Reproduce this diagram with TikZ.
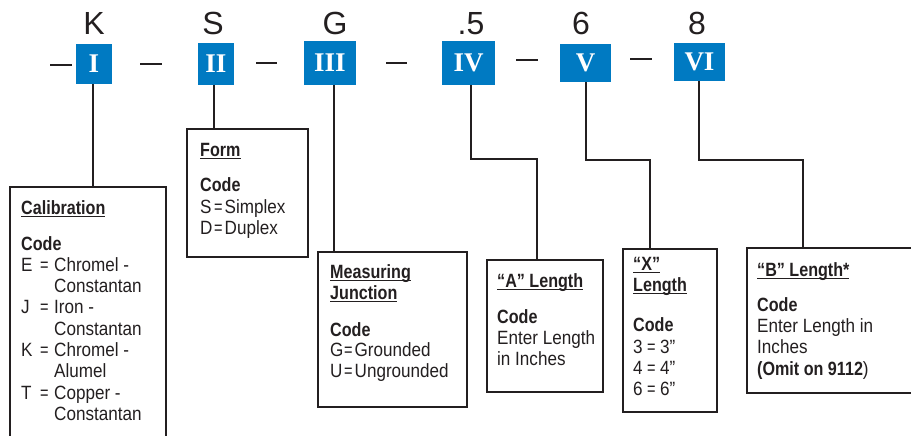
\documentclass[tikz,border=0pt]{standalone}
\usepackage{graphicx}
\usepackage{fontspec}
\setmainfont{Liberation Sans}[FakeStretch=0.89, BoldFeatures={FakeStretch=0.84}]
\newfontfamily\topfont{Liberation Sans}
\newfontfamily\numfont{Liberation Serif}
\definecolor{codeblue}{RGB}{0,122,194}
\definecolor{ink}{RGB}{35,31,32}
\newcommand\myul[1]{\setbox0=\hbox{#1}\rlap{\color{ink}\rule[-2.8pt]{\wd0}{1pt}}\box0}
\newcommand\eqs{\scalebox{0.85}[1]{=}}
\newcommand\codeln[2]{\makebox[14pt][l]{#1}\makebox[10.5pt][l]{\eqs}#2}
\newcommand\codelnc[2]{\makebox[19pt][l]{#1}\makebox[14pt][l]{\eqs}#2}
\newcommand\codelnx[2]{\makebox[14pt][l]{#1}\makebox[13pt][l]{\eqs}#2}
\newcommand\bodyfont{\fontsize{19.2}{21.3}\selectfont}
\tikzset{
  bluebox/.style={fill=codeblue, draw=none, inner sep=0pt, text=white,
    font=\numfont\bfseries\fontsize{27}{30}\selectfont},
  toplabel/.style={anchor=base, inner sep=0pt, text=ink,
    font=\topfont\fontsize{32}{36}\selectfont},
  infobox/.style={draw=ink, line width=2.2pt, inner sep=0pt},
  conn/.style={draw=ink, line width=2.2pt},
  dashbar/.style={draw=ink, line width=2.6pt},
  txt/.style={anchor=base west, inner sep=0pt, text=ink, font=\bodyfont},
}
\begin{document}
\begin{tikzpicture}[x=1pt,y=-1pt]
\useasboundingbox (0,0) rectangle (911,436);

% blue code boxes
\node[bluebox, minimum width=36pt, minimum height=40pt] (b1) at (94,64) {I};
\node[bluebox, minimum width=36pt, minimum height=42pt] (b2) at (216,64) {II};
\node[bluebox, minimum width=52pt, minimum height=44pt] (b3) at (330,63) {III};
\node[bluebox, minimum width=53pt, minimum height=44pt] (b4) at (468.5,63) {IV};
\node[bluebox, minimum width=51pt, minimum height=38pt] (b5) at (585.5,63) {V};
\node[bluebox, minimum width=51pt, minimum height=38pt] (b6) at (699.5,62) {VI};

% example values above
\node[toplabel] (t1) at (94,35) {K};
\node[toplabel] (t2) at (213,35) {S};
\node[toplabel] (t3) at (335,35) {G};
\node[toplabel] (t4) at (471,35) {.5};
\node[toplabel] (t5) at (581,35) {6};
\node[toplabel] (t6) at (697,35) {8};

% dashes
\draw[dashbar] (50,65) -- (72,65);
\draw[dashbar] (140,64) -- (162,64);
\draw[dashbar] (256,63) -- (277,63);
\draw[dashbar] (386,63) -- (407,63);
\draw[dashbar] (516,60) -- (538,60);
\draw[dashbar] (630,59) -- (652,59);

% description boxes
\node[infobox, minimum width=156pt, minimum height=263pt] (cal) at (88,318.5) {};
\node[infobox, minimum width=121pt, minimum height=128pt] (form) at (247.5,193) {};
\node[infobox, minimum width=149pt, minimum height=155pt] (meas) at (392.5,329.5) {};
\node[infobox, minimum width=116pt, minimum height=132pt] (alen) at (545,326) {};
\node[infobox, minimum width=94pt, minimum height=163pt] (xlen) at (670,330.5) {};
\node[infobox, minimum width=178pt, minimum height=145pt] (blen) at (836,320.5) {};

% connectors
\draw[conn] ([xshift=-1pt]b1.south) -- ([xshift=-1pt]b1.south |- cal.north);
\draw[conn] ([xshift=-2pt]b2.south) -- ([xshift=-2pt]b2.south |- form.north);
\draw[conn] ([xshift=4pt]b3.south) -- ([xshift=4pt]b3.south |- meas.north);
\coordinate (k4) at (537,159);
\coordinate (k5) at (650,160);
\coordinate (k6) at (803,160);
\draw[conn] ([xshift=2.5pt]b4.south) |- (k4) -- (k4 |- alen.north);
\draw[conn] ([xshift=0.5pt]b5.south) |- (k5) -- (k5 |- xlen.north);
\draw[conn] ([xshift=-0.5pt]b6.south) |- (k6) -- (k6 |- blen.north);

% texts
\node[txt] (caltxt) at (21,214) {\begin{tabular}[t]{@{}l@{}}
\myul{\bfseries Calibration}\\[14.7pt]
\bfseries Code\\
\codelnc{E}{Chromel -}\\
\hspace*{33pt}Constantan\\
\codelnc{J}{Iron -}\\
\hspace*{33pt}Constantan\\
\codelnc{K}{Chromel -}\\
\hspace*{33pt}Alumel\\
\codelnc{T}{Copper -}\\
\hspace*{33pt}Constantan
\end{tabular}};

\node[txt] (formtxt) at (200,156) {\begin{tabular}[t]{@{}l@{}}
\myul{\bfseries Form}\\[14.7pt]
\bfseries Code\\
\codeln{S}{Simplex}\\
\codeln{D}{Duplex}
\end{tabular}};

\node[txt] (meastxt) at (330,278) {\begin{tabular}[t]{@{}l@{}}
\myul{\bfseries Measuring}\\
\myul{\bfseries Junction}\\[15.5pt]
\bfseries Code\\[-0.8pt]
\codeln{G}{Grounded}\\[-0.8pt]
\codeln{U}{Ungrounded}
\end{tabular}};

\node[txt] (alentxt) at (497,287) {\begin{tabular}[t]{@{}l@{}}
\myul{\bfseries “A” Length}\\[14.7pt]
\bfseries Code\\
Enter Length\\
in Inches
\end{tabular}};

\node[txt] (xlentxt) at (633,270) {\begin{tabular}[t]{@{}l@{}}
\myul{\bfseries “X”}\\
\myul{\bfseries Length}\\[18.4pt]
\bfseries Code\\[1.5pt]
\codelnx{3}{3”}\\[-0.5pt]
\codelnx{4}{4”}\\[-0.5pt]
\codelnx{6}{6”}
\end{tabular}};

\node[txt] (blentxt) at (757,276) {\begin{tabular}[t]{@{}l@{}}
\myul{\bfseries “B” Length*}\\[14pt]
\bfseries Code\\
Enter Length in\\
Inches\\
{\bfseries (Omit on 9112})
\end{tabular}};
\end{tikzpicture}
\end{document}
